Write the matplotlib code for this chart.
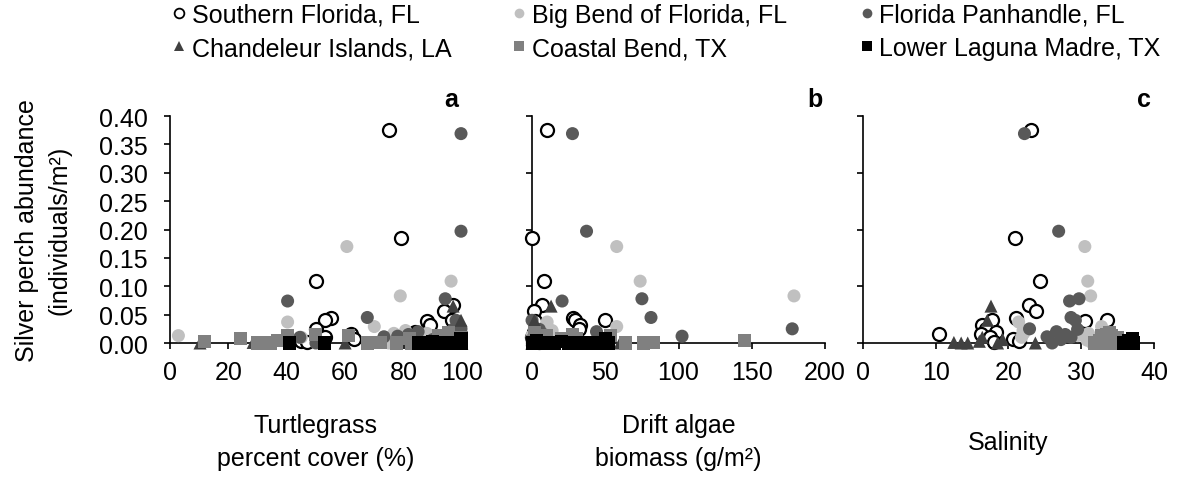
import matplotlib
matplotlib.use("Agg")
import matplotlib.pyplot as plt
from matplotlib.lines import Line2D

plt.rcParams["font.family"] = ["Liberation Sans", "DejaVu Sans"]
plt.rcParams["font.size"] = 18

# Southern Florida, FL
sf_abund = [0.376, 0.185, 0.109, 0.067, 0.056, 0.044, 0.041, 0.040, 0.039, 0.031, 0.025, 0.020, 0.016, 0.015, 0.010, 0.007, 0.003, 0.002]
sf_grass = [75, 79, 50, 97, 94, 55, 96.5, 53, 88, 89, 50, 84, 83, 62, 53, 63, 45, 47]
sf_algae = [10, 0, 8, 7, 1.5, 28, 29, 50, 2, 33, 32, 1, 3, 4, 0, 2, 1, 5]
sf_sal = [23.1, 20.9, 24.3, 22.8, 23.8, 21.1, 33.5, 17.8, 30.5, 16.4, 16.9, 18.3, 16.2, 10.5, 17.4, 20.6, 21.5, 18.0]

# Big Bend of Florida, FL
bb_abund = [0.170, 0.109, 0.083, 0.037, 0.029, 0.022, 0.017, 0.017, 0.013, 0.010, 0.005, 0.0]
bb_grass = [60.6, 96.3, 78.9, 40.3, 70, 80.7, 76.7, 88, 2.9, 45, 92, 75]
bb_algae = [57.8, 73.8, 178.8, 10.3, 57.8, 13.7, 5, 2, 0, 1, 3, 0]
bb_sal = [30.5, 30.9, 31.3, 21.4, 32.8, 22.0, 22.1, 31.0, 29.5, 21.8, 30.8, 31.5]

# Florida Panhandle, FL
fp_abund = [0.369, 0.197, 0.078, 0.074, 0.045, 0.040, 0.025, 0.024, 0.020, 0.015, 0.012, 0.011, 0.010, 0.006, 0.0]
fp_grass = [99.7, 99.7, 94.3, 40.3, 67.6, 98, 99.7, 97, 85, 81.7, 78, 73.3, 44.5, 90, 50]
fp_algae = [27.6, 37.2, 75, 20.5, 81.2, 0, 177.6, 5, 44, 8, 102.4, 3, 1, 0, 2]
fp_sal = [22.2, 26.9, 29.7, 28.4, 28.6, 29.2, 22.9, 29.5, 26.6, 27.8, 28.0, 25.3, 28.6, 27.2, 26.0]

# Chandeleur Islands, LA
ci_abund = [0.065, 0.040, 0.010, 0.006, 0.003, 0.001, 0.0, 0.0, 0.0, 0.0]
ci_grass = [97, 99.7, 99, 98, 95, 28.5, 10.3, 60, 100, 97]
ci_algae = [13, 1.6, 2, 0, 4, 1, 0, 60, 3, 0]
ci_sal = [17.6, 17.1, 16.4, 19.2, 16.0, 12.5, 14.4, 23.7, 13.5, 18.5]

# Coastal Bend, TX
cb_abund = [0.018, 0.015, 0.013, 0.013, 0.013, 0.010, 0.008, 0.008, 0.004, 0.003, 0.001, 0.0, 0.0, 0.0, 0.0, 0.0, 0.0]
cb_grass = [95.5, 49.7, 61, 92, 40.3, 99.7, 24.3, 82, 37, 11.8, 72, 34.6, 67.6, 77.6, 82.8, 88, 30]
cb_algae = [2, 27.6, 53.8, 5, 10, 1.6, 20, 30, 145, 0, 83, 63.5, 76, 40, 15, 8, 0]
cb_sal = [33.9, 33.5, 34.2, 32.8, 33.2, 35.0, 34.5, 33.8, 32.5, 34.0, 33.0, 33.0, 32.0, 34.8, 35.5, 33.6, 31.8]

# Lower Laguna Madre, TX
llm_abund = [0.008, 0.005, 0.003, 0.0, 0.0, 0.0, 0.0, 0.0, 0.0, 0.0, 0.0, 0.0]
llm_grass = [99.7, 99.7, 90, 40.8, 52.8, 88, 91.5, 99.7, 85, 95, 89, 100]
llm_algae = [50, 3, 20, 0, 8, 15, 25, 33, 40, 45, 12, 52]
llm_sal = [37.1, 36.5, 36.8, 36.1, 36.0, 37.0, 36.3, 36.9, 35.8, 36.6, 37.2, 36.2]

site_names = ["Southern Florida, FL", "Big Bend of Florida, FL", "Florida Panhandle, FL",
              "Chandeleur Islands, LA", "Coastal Bend, TX", "Lower Laguna Madre, TX"]

sites = [
    (sf_abund, sf_grass, sf_algae, sf_sal, "o", "white", "black"),
    (bb_abund, bb_grass, bb_algae, bb_sal, "o", "#c0c0c0", "none"),
    (fp_abund, fp_grass, fp_algae, fp_sal, "o", "#595959", "none"),
    (ci_abund, ci_grass, ci_algae, ci_sal, "^", "#404040", "none"),
    (cb_abund, cb_grass, cb_algae, cb_sal, "s", "#808080", "none"),
    (llm_abund, llm_grass, llm_algae, llm_sal, "s", "black", "none"),
]

panel_xlims = [(0, 100), (0, 200), (0, 40)]
panel_xticks = [range(0, 101, 20), range(0, 201, 50), range(0, 41, 10)]
panel_xlabels = ["Turtlegrass\npercent cover (%)", "Drift algae\nbiomass (g/m²)", "Salinity"]
panel_letters = ["a", "b", "c"]
y_ticks_a = [0.0, 0.05, 0.10, 0.15, 0.20, 0.25, 0.30, 0.35, 0.40]
y_ticks_bc = [0.0, 0.1, 0.2, 0.3, 0.4]

fig = plt.figure(figsize=(11.81, 4.85), dpi=100)
axes_rects = [
    [0.1439, 0.2907, 0.2472, 0.468],
    [0.4505, 0.2907, 0.2481, 0.468],
    [0.7307, 0.2907, 0.2464, 0.468],
]

for i, rect in enumerate(axes_rects):
    ax = fig.add_axes(rect)
    for abund, grass, algae, sal, marker, face, edge in sites:
        xvals = [grass, algae, sal][i]
        lw = 1.6 if edge != "none" else 0
        ax.scatter(xvals, abund, s=88, marker=marker, facecolors=face,
                   edgecolors=edge, linewidths=lw, clip_on=False, zorder=3)

    ax.set_xlim(*panel_xlims[i])
    ax.set_ylim(0, 0.40)
    ax.set_xticks(list(panel_xticks[i]))
    for side in ["top", "right"]:
        ax.spines[side].set_visible(False)
    for side in ["left", "bottom"]:
        ax.spines[side].set_linewidth(1.2)
    ax.tick_params(direction="out", length=4, width=1.2, labelsize=18)
    ax.tick_params(axis="x", pad=8)
    ax.tick_params(axis="y", pad=12)

    if i == 0:
        ax.set_yticks(y_ticks_a)
        ax.set_yticklabels([f"{v:.2f}" for v in y_ticks_a])
    else:
        ax.set_yticks(y_ticks_bc)
        ax.set_yticklabels([])

    ax.set_xlabel(panel_xlabels[i], fontsize=18, va="center", linespacing=1.45)
    ax.xaxis.set_label_coords(0.5, -0.435)
    ax.text(0.965, 1.075, panel_letters[i], transform=ax.transAxes,
            fontsize=18, fontweight="bold", ha="center", va="center")

fig.text(0.037, 0.525, "Silver perch abundance\n(individuals/m²)", rotation=90,
         ha="center", va="center", fontsize=18, linespacing=1.45)

# legend, one column at a time
legend_x = [0.1456, 0.4335, 0.7274]
for col in range(3):
    handles = []
    labels = []
    for row in range(2):
        k = row * 3 + col
        abund, grass, algae, sal, marker, face, edge = sites[k]
        handles.append(Line2D([], [], linestyle="none", marker=marker, markersize=7,
                              markerfacecolor=face,
                              markeredgecolor=edge if edge != "none" else face,
                              markeredgewidth=1.3 if edge != "none" else 0))
        labels.append(site_names[k])
    fig.legend(handles, labels, loc="upper left", bbox_to_anchor=(legend_x[col], 0.992),
               frameon=False, borderpad=0, handlelength=0.6, handletextpad=0.2,
               labelspacing=0.37, fontsize=18, borderaxespad=0)

fig.savefig("out.png", dpi=100)
